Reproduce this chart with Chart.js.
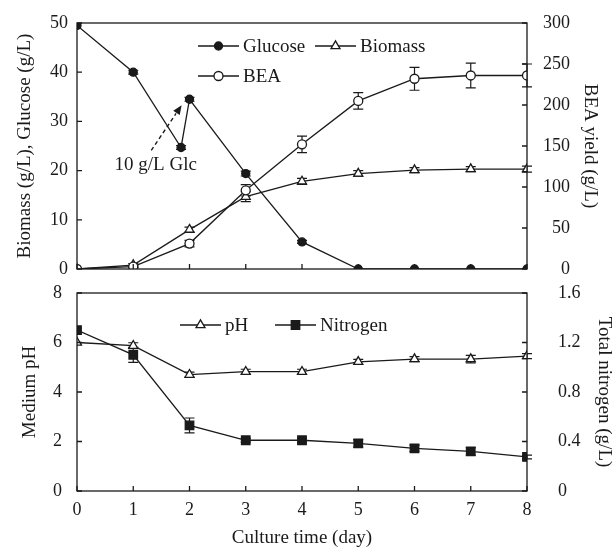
<!DOCTYPE html>
<html>
<head>
<meta charset="utf-8">
<script src="https://cdn.jsdelivr.net/npm/chart.js@4.4.1/dist/chart.umd.min.js"></script>
<style>
  html, body { margin: 0; padding: 0; background: #fff; }
  #wrap { position: relative; width: 614px; height: 549px; }
  #topChart { position: absolute; left: 0; top: 0; }
  #bottomChart { position: absolute; left: 0; top: 281px; }
</style>
</head>
<body>
<div id="wrap">
  <canvas id="topChart" width="614" height="281"></canvas>
  <canvas id="bottomChart" width="614" height="268"></canvas>
</div>
<script>
// Data
const days = [0, 1, 2, 3, 4, 5, 6, 7, 8];
const glucoseDays = [0, 1, 1.85, 2, 3, 4, 5, 6, 7, 8];
const glucose = [49.5, 40, 24.7, 34.5, 19.4, 5.5, 0, 0, 0, 0];
const glucoseErr = [0, 0.4, 0.4, 0.4, 0.5, 0.3, 0, 0, 0, 0];
const biomass = [0, 0.8, 8, 14.7, 17.8, 19.4, 20.1, 20.3, 20.3];
const biomassErr = [0, 0.3, 0.5, 1, 0.6, 0.6, 0.5, 0.5, 0.6];
const bea = [0, 3, 31, 96, 152, 205, 232, 236, 236];
const beaErr = [0, 1, 4, 7, 10, 10, 14, 15, 14];
const ph = [6.0, 5.87, 4.7, 4.82, 4.82, 5.22, 5.33, 5.33, 5.45];
const phErr = [0, 0.12, 0.1, 0.1, 0.1, 0.1, 0.1, 0.15, 0.1];
const nitrogen = [1.3, 1.1, 0.53, 0.41, 0.41, 0.385, 0.345, 0.32, 0.275];
const nitrogenErr = [0, 0.06, 0.06, 0.015, 0.015, 0.03, 0.025, 0.03, 0.015];
const nitrogenTicks = ["0", "0.4", "0.8", "1.2", "1.6"];

const INK = "#1a1a1a";
const FONT = "'Liberation Serif', 'Times New Roman', serif";

function pts(xs, ys) {
    return xs.map((x, i) => ({ x: x, y: ys[i] }));
}

function marker(ctx, style, x, y, r, fill) {
    ctx.beginPath();
    if (style === "circle") {
        ctx.arc(x, y, r, 0, Math.PI * 2);
    } else if (style === "triangle") {
        for (let k = 0; k < 3; k++) {
            let a = k * Math.PI * 2 / 3;
            let px = x + Math.sin(a) * r, py = y - Math.cos(a) * r;
            k === 0 ? ctx.moveTo(px, py) : ctx.lineTo(px, py);
        }
        ctx.closePath();
    } else {
        let s = r * Math.SQRT1_2;
        ctx.rect(x - s, y - s, 2 * s, 2 * s);
    }
    ctx.fillStyle = fill;
    ctx.fill();
    ctx.stroke();
}

// error bars, drawn under the markers
const errorBars = {
    id: "errorBars",
    beforeDatasetsDraw(chart) {
        const ctx = chart.ctx;
        ctx.save();
        ctx.strokeStyle = INK;
        ctx.lineWidth = 1.2;
        chart.data.datasets.forEach((ds, di) => {
            if (!ds.errors) return;
            const meta = chart.getDatasetMeta(di);
            const ys = chart.scales[ds.yAxisID];
            meta.data.forEach((el, i) => {
                const e = ds.errors[i];
                if (!e) return;
                const v = ds.data[i].y;
                const top = ys.getPixelForValue(v + e);
                const bot = ys.getPixelForValue(v - e);
                ctx.beginPath();
                ctx.moveTo(el.x, top); ctx.lineTo(el.x, bot);
                ctx.moveTo(el.x - 5, top); ctx.lineTo(el.x + 5, top);
                ctx.moveTo(el.x - 5, bot); ctx.lineTo(el.x + 5, bot);
                ctx.stroke();
            });
        });
        ctx.restore();
    }
};

// box round the plot and tick marks pointing inward
const frameTicks = {
    id: "frameTicks",
    afterDraw(chart) {
        const { ctx, chartArea: a, scales } = chart;
        const len = 5;
        ctx.save();
        ctx.strokeStyle = INK;
        ctx.lineWidth = 1.3;
        ctx.strokeRect(a.left, a.top, a.right - a.left, a.bottom - a.top);
        ctx.beginPath();
        scales.x.ticks.forEach(t => {
            const p = scales.x.getPixelForValue(t.value);
            ctx.moveTo(p, a.bottom); ctx.lineTo(p, a.bottom - len);
        });
        scales.y.ticks.forEach(t => {
            const p = scales.y.getPixelForValue(t.value);
            ctx.moveTo(a.left, p); ctx.lineTo(a.left + len, p);
        });
        scales.y2.ticks.forEach(t => {
            const p = scales.y2.getPixelForValue(t.value);
            ctx.moveTo(a.right, p); ctx.lineTo(a.right - len, p);
        });
        ctx.stroke();
        ctx.restore();
    }
};

// legend entries placed inside the plot
const panelLegend = {
    id: "panelLegend",
    afterDraw(chart, args, opts) {
        const ctx = chart.ctx;
        ctx.save();
        ctx.font = "19px " + FONT;
        ctx.textBaseline = "middle";
        ctx.lineWidth = 1.3;
        ctx.strokeStyle = INK;
        opts.items.forEach(it => {
            const ds = chart.data.datasets[it.dataset];
            const len = opts.lineLength;
            ctx.beginPath();
            ctx.moveTo(it.x, it.y); ctx.lineTo(it.x + len, it.y);
            ctx.stroke();
            marker(ctx, ds.pointStyle, it.x + len / 2, it.y, ds.pointRadius, ds.pointBackgroundColor);
            ctx.fillStyle = INK;
            ctx.fillText(ds.label, it.x + len + 4, it.y + 1);
        });
        ctx.restore();
    }
};

// dashed arrow with its note, in data units
const arrowNote = {
    id: "arrowNote",
    afterDraw(chart, args, opts) {
        if (!opts.text) return;
        const { ctx, scales } = chart;
        const fx = scales.x.getPixelForValue(opts.from[0]), fy = scales.y.getPixelForValue(opts.from[1]);
        const tx = scales.x.getPixelForValue(opts.to[0]), ty = scales.y.getPixelForValue(opts.to[1]);
        const ang = Math.atan2(ty - fy, tx - fx);
        const head = 10;
        ctx.save();
        ctx.strokeStyle = INK;
        ctx.fillStyle = INK;
        ctx.lineWidth = 1.4;
        ctx.setLineDash([4, 3]);
        ctx.beginPath();
        ctx.moveTo(fx, fy);
        ctx.lineTo(tx - Math.cos(ang) * head, ty - Math.sin(ang) * head);
        ctx.stroke();
        ctx.setLineDash([]);
        ctx.beginPath();
        ctx.moveTo(tx, ty);
        ctx.lineTo(tx - Math.cos(ang - 0.4) * head, ty - Math.sin(ang - 0.4) * head);
        ctx.lineTo(tx - Math.cos(ang + 0.4) * head, ty - Math.sin(ang + 0.4) * head);
        ctx.closePath();
        ctx.fill();
        ctx.font = "19px " + FONT;
        ctx.textAlign = "center";
        ctx.textBaseline = "middle";
        ctx.fillText(opts.text, scales.x.getPixelForValue(opts.textAt[0]), scales.y.getPixelForValue(opts.textAt[1]));
        ctx.restore();
    }
};

Chart.register(errorBars, frameTicks, panelLegend, arrowNote);

const tickFont = { family: FONT, size: 18 };
const titleFont = { family: FONT, size: 19 };
const noGrid = { display: false, drawTicks: false };

// fixed axis sizes; end labels may hang outside the plot
function fixWidth(w) {
    return function (s) { s.width = w; s.paddingTop = 0; s.paddingBottom = 0; };
}
function fixHeight(h) {
    return function (s) { s.height = h; s.paddingLeft = 0; s.paddingRight = 0; };
}

function lineSet(label, data, axis, style, radius, fill, errors, order) {
    return {
        label: label,
        data: data,
        yAxisID: axis,
        borderColor: INK,
        borderWidth: 1.3,
        pointStyle: style,
        pointRadius: radius,
        pointBorderWidth: 1.3,
        pointBackgroundColor: fill,
        pointBorderColor: INK,
        tension: 0,
        errors: errors,
        order: order
    };
}

// Top panel: glucose, biomass, BEA
new Chart(document.getElementById("topChart"), {
    type: "line",
    data: {
        datasets: [
            lineSet("Glucose", pts(glucoseDays, glucose), "y", "circle", 4, INK, glucoseErr, 0),
            lineSet("Biomass", pts(days, biomass), "y", "triangle", 5.2, "#fff", biomassErr, 2),
            lineSet("BEA", pts(days, bea), "y2", "circle", 4.5, "#fff", beaErr, 1)
        ]
    },
    options: {
        responsive: false,
        animation: false,
        devicePixelRatio: 1,
        layout: { padding: { top: 23, right: 44, left: 0, bottom: 0 } },
        plugins: {
            legend: { display: false },
            tooltip: { enabled: false },
            panelLegend: {
                lineLength: 41,
                items: [
                    { dataset: 0, x: 198, y: 46 },
                    { dataset: 1, x: 315, y: 46 },
                    { dataset: 2, x: 198, y: 76 }
                ]
            },
            arrowNote: { text: "10 g/L Glc", from: [1.32, 24.1], to: [1.86, 33.3], textAt: [1.4, 21.1] }
        },
        scales: {
            x: {
                type: "linear", min: 0, max: 8,
                ticks: { stepSize: 1, display: false },
                grid: noGrid, border: { display: false },
                afterFit: fixHeight(12)
            },
            y: {
                position: "left", min: 0, max: 50,
                ticks: { stepSize: 10, padding: 9, font: tickFont, color: INK },
                grid: noGrid, border: { display: false },
                title: { display: true, text: "Biomass (g/L), Glucose (g/L)", font: titleFont, color: INK, padding: { top: 14, bottom: 0 } },
                afterFit: fixWidth(77)
            },
            y2: {
                position: "right", min: 0, max: 300,
                ticks: { stepSize: 50, crossAlign: "far", font: tickFont, color: INK },
                grid: noGrid, border: { display: false },
                title: { display: true, text: "BEA yield (g/L)", font: titleFont, color: INK, padding: { top: -31, bottom: 0 } },
                afterFit: fixWidth(43)
            }
        }
    }
});

// Bottom panel: pH and total nitrogen
new Chart(document.getElementById("bottomChart"), {
    type: "line",
    data: {
        datasets: [
            lineSet("pH", pts(days, ph), "y", "triangle", 5.2, "#fff", phErr, 1),
            lineSet("Nitrogen", pts(days, nitrogen), "y2", "rect", 6, INK, nitrogenErr, 0)
        ]
    },
    options: {
        responsive: false,
        animation: false,
        devicePixelRatio: 1,
        layout: { padding: { top: 12, right: 0, left: 0, bottom: 0 } },
        plugins: {
            legend: { display: false },
            tooltip: { enabled: false },
            panelLegend: {
                lineLength: 41,
                items: [
                    { dataset: 0, x: 180, y: 44 },
                    { dataset: 1, x: 275, y: 44 }
                ]
            }
        },
        scales: {
            x: {
                type: "linear", min: 0, max: 8,
                ticks: { stepSize: 1, padding: 8, font: tickFont, color: INK },
                grid: noGrid, border: { display: false },
                title: { display: true, text: "Culture time (day)", font: titleFont, color: INK, padding: { top: 0, bottom: 0 } },
                afterFit: fixHeight(58)
            },
            y: {
                position: "left", min: 0, max: 8,
                ticks: { stepSize: 2, padding: 15, font: tickFont, color: INK },
                grid: noGrid, border: { display: false },
                title: { display: true, text: "Medium pH", font: titleFont, color: INK, padding: { top: 19, bottom: 0 } },
                afterFit: fixWidth(77)
            },
            y2: {
                position: "right", min: 0, max: 1.6,
                ticks: {
                    stepSize: 0.4, padding: 31, font: tickFont, color: INK,
                    callback: (v, i) => nitrogenTicks[i]
                },
                grid: noGrid, border: { display: false },
                title: { display: true, text: "Total nitrogen (g/L)", font: titleFont, color: INK, padding: { top: -1, bottom: 0 } },
                afterFit: fixWidth(87)
            }
        }
    }
});
</script>
</body>
</html>
